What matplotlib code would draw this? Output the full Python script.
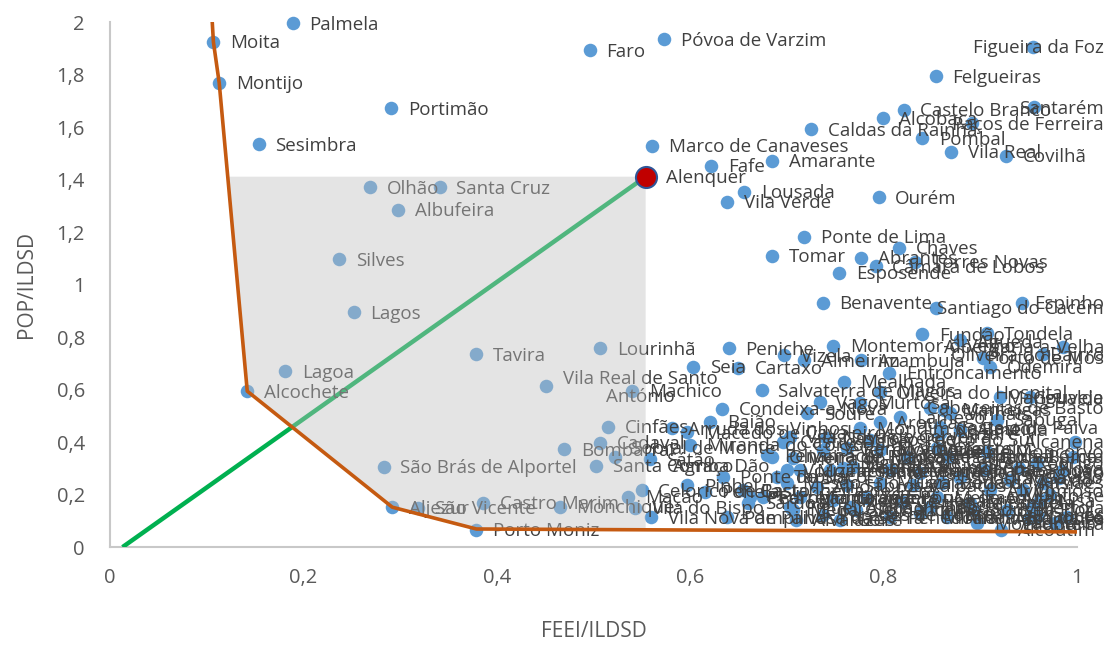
import matplotlib
matplotlib.use("Agg")
import matplotlib.pyplot as plt
import numpy as np

plt.rcParams['font.family'] = ['Open Sans', 'DejaVu Sans']

# municipalities: name, FEEI/ILDSD (x), POP/ILDSD (y)
names = [
    "Palmela", "Moita", "Montijo", "Portimão", "Sesimbra", "Faro",
    "Póvoa de Varzim", "Figueira da Foz", "Felgueiras", "Castelo Branco",
    "Alcobaça", "Santarém", "Paços de Ferreira", "Caldas da Rainha", "Pombal",
    "Vila Real", "Covilhã", "Marco de Canaveses", "Fafe", "Amarante",
    "Lousada", "Vila Verde", "Ourém",
    # inside the shaded area
    "Olhão", "Santa Cruz", "Albufeira", "Silves", "Lagos", "Lagoa",
    "Alcochete", "Tavira", "São Brás de Alportel", "Aljezur", "São Vicente",
    "Castro Marim", "Monchique", "Porto Moniz", "Lourinhã",
    "Vila Real de Santo\nAntónio", "Machico", "Cinfães", "Cadaval",
    "Bombarral", "Santa Comba Dão", "Sobral de Monte\nAgraço", "Mação",
    "Celorico de Basto", "Vila do Bispo",
    # middle right
    "Ponte de Lima", "Chaves", "Tomar", "Abrantes", "Torres Novas",
    "Câmara de Lobos", "Esposende", "Benavente", "Santiago do Cacém",
    "Espinho", "Fundão", "Tondela", "Águeda", "Albergaria-a-Velha",
    "Oliveira do Bairro", "Porto de Mós", "Odemira", "Montemor-o-Velho",
    "Peniche", "Vizela", "Almeirim", "Azambuja", "Seia", "Cartaxo",
    "Salvaterra de Magos", "Entroncamento", "Mealhada",
    "Oliveira do Hospital", "Mangualde", "Gouveia",
    # dense cluster
    "Condeixa-a-Nova", "Baião", "Arruda dos Vinhos", "Macedo de Cavaleiros",
    "Miranda do Corvo", "Sátão", "Pinhel", "Penela", "Castanheira de Pêra",
    "Vila Nova de Paiva", "Soure", "Oliveira de Frades", "Vouzela",
    "Castro Daire", "Ponte de Sor", "Pampilhosa da Serra", "Sardoal",
    "Ferreira do Zêzere", "Tabuaço", "Vagos", "Murtosa", "Arouca", "Lamego",
    "Cabeceiras de Basto", "Mondim de Basto", "Vila Nova de Cerveira",
    "Castro Verde", "São Pedro do Sul", "Nazaré", "Vieira do Minho",
    "Sever do Vouga", "Penalva do Castelo", "Mortágua", "Carregal do Sal",
    "Ponte da Barca", "Moimenta da Beira", "Tarouca", "Armamar", "Resende",
    "Santa Marta de Penaguião", "Mesão Frio", "Alijó", "Sabrosa", "Murça",
    "Valpaços", "Boticas", "Montalegre", "Ribeira de Pena",
    "Vila Pouca de Aguiar", "Terras de Bouro", "Melgaço", "Paredes de Coura",
    "Sernancelhe", "Góis", "Penedono", "Trancoso", "Meda", "Manteigas",
    "Sabugal", "Almeida", "Alcanena", "Figueira de Castelo Rodrigo",
    "Freixo de Espada à Cinta", "Torre de Moncorvo", "Carrazeda de Ansiães",
    "Mirandela", "Vila Flor", "Alfândega da Fé", "Mogadouro", "Alcoutim",
    "Miranda do Douro", "Vimioso", "Vinhais", "Penamacor", "Oleiros",
    "Proença-a-Nova", "Pedrógão Grande", "Figueiró dos Vinhos", "Alvaiázere",
    "Ansião", "Tábua", "Mértola", "Mourão", "Alvito", "Monforte", "Crato",
    "Marvão", "Gavião", "Nisa", "Sousel", "Fronteira", "Castelo de Paiva",
    "Idanha-a-Nova", "Vila Velha de Ródão", "Arronches", "Barrancos",
]

feei = [
    0.189, 0.107, 0.113, 0.291, 0.154, 0.496,
    0.573, 0.955, 0.854, 0.821,
    0.799, 0.956, 0.892, 0.725, 0.840,
    0.870, 0.927, 0.561, 0.622, 0.685,
    0.656, 0.638, 0.795,
    0.269, 0.341, 0.298, 0.237, 0.252, 0.181,
    0.142, 0.379, 0.283, 0.292, 0.319,
    0.386, 0.465, 0.379, 0.507,
    0.451, 0.540, 0.515, 0.507,
    0.470, 0.503, 0.522, 0.536,
    0.550, 0.543,
    0.718, 0.816, 0.685, 0.777, 0.833,
    0.792, 0.754, 0.737, 0.854,
    0.943, 0.840, 0.907, 0.879, 0.986,
    0.965, 0.903, 0.910, 0.748,
    0.640, 0.697, 0.718, 0.777, 0.603, 0.650,
    0.674, 0.806, 0.759,
    0.796, 0.920, 0.951,
    0.633, 0.621, 0.581, 0.597,
    0.600, 0.558, 0.597, 0.615, 0.655,
    0.560, 0.721, 0.685, 0.700,
    0.696, 0.634, 0.638, 0.660,
    0.675, 0.690, 0.734, 0.776, 0.796, 0.817,
    0.848, 0.776, 0.703,
    0.741, 0.786, 0.858, 0.706,
    0.737, 0.762, 0.796, 0.824,
    0.867, 0.714, 0.745, 0.768, 0.807,
    0.838, 0.700, 0.731, 0.762, 0.796,
    0.830, 0.861, 0.714, 0.748,
    0.783, 0.820, 0.855, 0.737,
    0.772, 0.755, 0.807, 0.838, 0.706, 0.863,
    0.917, 0.879, 0.998, 0.959,
    0.996, 0.907, 0.965,
    0.889, 0.928, 0.990, 0.897, 0.922,
    0.866, 0.944, 0.869, 0.680, 0.855,
    0.758, 0.662, 0.703, 0.710,
    0.765, 0.848, 0.954, 0.879, 0.910, 0.972, 0.905,
    0.931, 0.982, 0.962, 0.894, 0.977, 0.858,
    0.940, 0.985, 0.950, 0.960,
]

pop = [
    1.996, 1.924, 1.768, 1.672, 1.535, 1.893,
    1.934, 1.906, 1.794, 1.665,
    1.633, 1.675, 1.614, 1.591, 1.557,
    1.506, 1.490, 1.528, 1.453, 1.472,
    1.354, 1.316, 1.332,
    1.371, 1.371, 1.284, 1.097, 0.895, 0.670,
    0.594, 0.735, 0.305, 0.152, 0.149,
    0.168, 0.154, 0.065, 0.758,
    0.613, 0.596, 0.459, 0.397,
    0.372, 0.310, 0.344, 0.192,
    0.217, 0.150,
    1.181, 1.139, 1.109, 1.101, 1.086,
    1.070, 1.044, 0.930, 0.912,
    0.931, 0.811, 0.815, 0.789, 0.762,
    0.735, 0.720, 0.686, 0.766,
    0.758, 0.731, 0.712, 0.712, 0.686, 0.682,
    0.598, 0.663, 0.629,
    0.590, 0.571, 0.571,
    0.526, 0.477, 0.453, 0.438,
    0.389, 0.335, 0.236, 0.210, 0.217,
    0.114, 0.510, 0.343, 0.293,
    0.400, 0.267, 0.114, 0.168,
    0.190, 0.267, 0.552, 0.549, 0.476, 0.495,
    0.530, 0.453, 0.419,
    0.415, 0.408, 0.434, 0.339,
    0.370, 0.377, 0.370, 0.343,
    0.343, 0.293, 0.293, 0.305, 0.293,
    0.282, 0.244, 0.229, 0.236, 0.244,
    0.236, 0.244, 0.190, 0.179,
    0.187, 0.171, 0.190, 0.122,
    0.141, 0.103, 0.114, 0.130, 0.141, 0.522,
    0.484, 0.446, 0.400, 0.320,
    0.343, 0.362, 0.244,
    0.168, 0.141, 0.114, 0.091, 0.065,
    0.114, 0.217, 0.510, 0.350, 0.377,
    0.301, 0.190, 0.152, 0.103,
    0.152, 0.152, 0.152, 0.263, 0.217, 0.198, 0.293,
    0.255, 0.263, 0.179, 0.141, 0.091, 0.457,
    0.300, 0.290, 0.110, 0.120,
]

# reference municipality
ref_name = "Alenquer"
ref_feei = 0.554
ref_pop = 1.411

# efficiency frontier
frontier_x = [0.105, 0.107, 0.113, 0.142, 0.292, 0.379, 1.0]
frontier_y = [2.05, 1.924, 1.768, 0.594, 0.152, 0.069, 0.058]

# ray from the origin to the reference point
ray_x = [0.013, ref_feei]
ray_y = [0.0, ref_pop]

xticks = [0, 0.2, 0.4, 0.6, 0.8, 1.0]
xtick_labels = ["0", "0,2", "0,4", "0,6", "0,8", "1"]
yticks = [0, 0.2, 0.4, 0.6, 0.8, 1.0, 1.2, 1.4, 1.6, 1.8, 2.0]
ytick_labels = ["0", "0,2", "0,4", "0,6", "0,8", "1", "1,2", "1,4", "1,6", "1,8", "2"]

blue = "#5B9BD5"
orange = "#C55A11"
green = "#00B050"
text_col = "#404040"
axis_col = "#595959"

fig = plt.figure(figsize=(11.14, 6.49), dpi=100)
ax = fig.add_axes([0.0987, 0.157, 0.868, 0.809])

ax.scatter(feei, pop, s=95, color=blue, zorder=2, clip_on=False, linewidths=0)
labels = []
for n, x, y in zip(names, feei, pop):
    t = ax.annotate(n, (x, y), xytext=(12, -1), textcoords="offset points",
                    ha="left", va="center", fontsize=13.5, color=text_col,
                    multialignment="center", linespacing=1.0, zorder=3)
    labels.append(t)

ax.plot(ray_x, ray_y, color=green, lw=3.2, zorder=2.5, solid_capstyle="butt")

# shaded region between the frontier and the reference point
top_x = np.interp(ref_pop, frontier_y[::-1], frontier_x[::-1])
bot_y = np.interp(ref_feei, frontier_x, frontier_y)
poly = [(top_x, ref_pop), (ref_feei, ref_pop), (ref_feei, bot_y)]
for fx, fy in reversed(list(zip(frontier_x, frontier_y))):
    if fy < ref_pop and fx < ref_feei:
        poly.append((fx, fy))
ax.add_patch(plt.Polygon(poly, closed=True, facecolor="#bfbfbf", alpha=0.42,
                         edgecolor="none", zorder=4))

ax.plot(frontier_x, frontier_y, color=orange, lw=2.6, zorder=5)

ax.scatter([ref_feei], [ref_pop], s=230, color="#C00000", edgecolors="#2F5597",
           linewidths=1.5, zorder=6)
ax.annotate(ref_name, (ref_feei, ref_pop), xytext=(15, -1), textcoords="offset points",
            ha="left", va="center", fontsize=13.5, color=text_col, zorder=6)

ax.set_xlim(0, 1)
ax.set_ylim(0, 2)
ax.set_xticks(xticks)
ax.set_xticklabels(xtick_labels)
ax.set_yticks(yticks)
ax.set_yticklabels(ytick_labels)
ax.tick_params(length=0, labelsize=14.5, colors=axis_col)
ax.tick_params(axis="x", pad=15)
ax.tick_params(axis="y", pad=18)
for side in ["top", "right"]:
    ax.spines[side].set_visible(False)
for side in ["left", "bottom"]:
    ax.spines[side].set_color("#c8c8c8")
    ax.spines[side].set_linewidth(1.5)
    ax.spines[side].set_zorder(1)

ax.set_xlabel("FEEI/ILDSD", fontsize=15, color=axis_col, labelpad=24)
ax.set_ylabel("POP/ILDSD", fontsize=15, color=axis_col, labelpad=14)

# keep labels inside the figure, like the original chart does
fig.canvas.draw()
renderer = fig.canvas.get_renderer()
limit = fig.bbox.width - 10
for t in labels:
    bb = t.get_window_extent(renderer)
    if bb.x1 > limit:
        dx = (bb.x1 - limit) * 72 / fig.dpi
        t.xyann = (t.xyann[0] - dx, t.xyann[1])

fig.savefig("out.png", dpi=100)
